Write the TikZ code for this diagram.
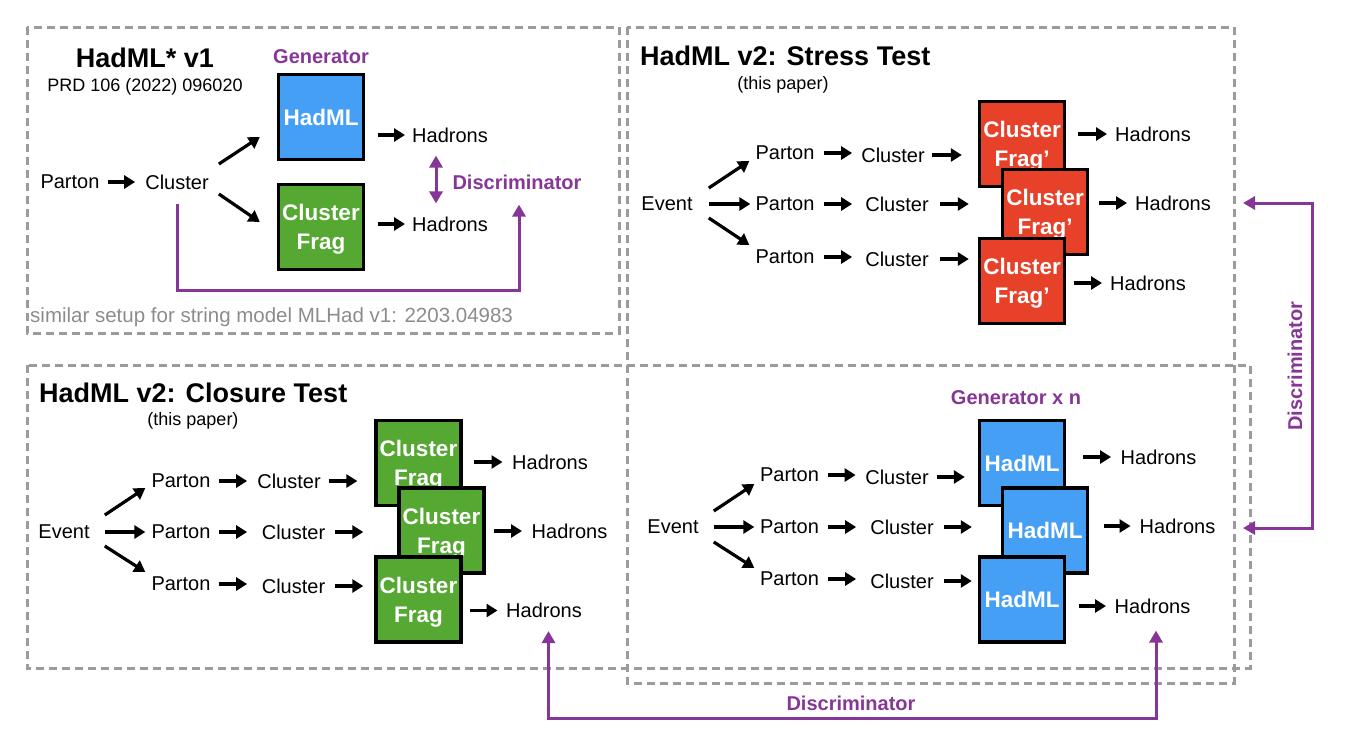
\documentclass[tikz,border=0pt]{standalone}
\usepackage{fontspec}
\setmainfont{Liberation Sans}
\usetikzlibrary{arrows.meta,calc}
\definecolor{purp}{RGB}{134,54,150}
\definecolor{hblue}{RGB}{69,160,245}
\definecolor{hgreen}{RGB}{85,168,49}
\definecolor{hred}{RGB}{232,65,42}
\definecolor{dgray}{RGB}{155,155,155}
\definecolor{sgray}{RGB}{140,140,140}
\begin{document}
\begin{tikzpicture}[x=1pt,y=-1pt,
  txt/.style={inner sep=0pt, font=\fontsize{20}{24}\selectfont},
  ttl/.style={inner sep=0pt, font=\fontsize{27}{32}\selectfont\bfseries},
  sub/.style={inner sep=0pt, font=\fontsize{18}{21}\selectfont},
  ptxt/.style={inner sep=0pt, font=\fontsize{20}{24}\selectfont\bfseries, text=purp},
  hbox/.style={draw=black, line width=3.4pt, minimum width=85pt, minimum height=85pt, inner sep=0pt, text=white, font=\fontsize{22.5}{29}\selectfont\bfseries, align=center, text depth=-6.5pt},
  panel/.style={draw=dgray, line width=3pt, dash pattern=on 8pt off 5pt},
  arr/.style={line width=3.2pt, -{Triangle[length=11pt,width=13pt]}},
  parr/.style={draw=purp, line width=3pt, -{Triangle[length=12pt,width=13pt]}},
  pdbl/.style={draw=purp, line width=3pt, {Triangle[length=12pt,width=13pt]}-{Triangle[length=12pt,width=13pt]}},
]
\useasboundingbox (0,0) rectangle (1356,748);

% panels
\draw[panel] (27,27) rectangle (619,333);
\draw[panel] (627,27) rectangle (1234,683);
\draw[panel] (27,365) rectangle (1250,668);

% ---------------- top-left: HadML* v1
\node[ttl] (t1) at (145,58) {HadML* v1};
\node[sub] (prd) at (145,87) {PRD 106 (2022) 096020};
\node[ptxt] (gen1) at (321,57) {Generator};
\node[hbox, fill=hblue] (hm1) at (321,117) {HadML};
\node[hbox, fill=hgreen] (cf1) at (321,227) {Cluster\\Frag};
\node[txt] (pa1) at (70,182) {Parton};
\node[txt] (cl1) at (177,182) {Cluster};
\node[txt] (ha1) at (450,135) {Hadrons};
\node[txt] (ha2) at (450,224) {Hadrons};
\node[ptxt] (dis1) at (517,182) {Discriminator};
\node[txt, text=sgray, anchor=west, font=\fontsize{20.5}{24}\selectfont] (sim) at (30,317) {similar setup for string model MLHad v1: 2203.04983};

\draw[arr, shorten <=8pt, shorten >=10pt] (pa1.east) -- (cl1.west |- pa1.east);
\draw[arr] ($(cl1.east)+(10,-18)$) -- ($(hm1.west)+(-17,20)$);
\draw[arr] ($(cl1.east)+(10,12)$) -- ($(cf1.west)+(-17,-5)$);
\draw[arr, shorten <=13pt, shorten >=7pt] (hm1.east |- ha1.west) -- (ha1.west);
\draw[arr, shorten <=13pt, shorten >=7pt] (cf1.east |- ha2.west) -- (ha2.west);
\coordinate (dx) at (436,0);
\draw[pdbl, shorten <=13pt, shorten >=13pt] (dx |- ha1.south) -- (dx |- ha2.north);
\coordinate (lp1) at (177,290);
\draw[parr, shorten <=14pt, shorten >=15pt] (cl1.south) -- (cl1.south |- lp1) -| ($(dis1.south)+(2,0)$);

% ---------------- top-right: Stress test
\node[ttl, anchor=west] (t2) at (640,56) {HadML v2: Stress Test};
\node[sub] (tp2) at (783,85) {(this paper)};
\node[txt] (ev2) at (667,204) {Event};
\node[txt] (p2a) at (785,153) {Parton};
\node[txt] (p2b) at (785,204) {Parton};
\node[txt] (p2c) at (785,257) {Parton};
\node[txt] (c2a) at (893,155) {Cluster};
\node[txt] (c2b) at (897,204) {Cluster};
\node[txt] (c2c) at (897,259) {Cluster};
\node[hbox, fill=hred] (rb1) at (1022,144) {Cluster\\Frag’};
\node[hbox, fill=hred] (rb2) at (1045,212) {Cluster\\Frag’};
\node[hbox, fill=hred] (rb3) at (1022,281) {Cluster\\Frag’};
\node[txt] (h2a) at (1153,134) {Hadrons};
\node[txt] (h2b) at (1173,203) {Hadrons};
\node[txt] (h2c) at (1148,283) {Hadrons};

\draw[arr] ($(ev2.east)+(16,-16)$) -- ($(p2a.west)+(-6,8)$);
\draw[arr, shorten <=16pt, shorten >=5pt] (ev2.east) -- (p2b.west |- ev2.east);
\draw[arr] ($(ev2.east)+(16,14)$) -- ($(p2c.west)+(-6,-12)$);
\foreach \p/\c/\s in {p2a/c2a/9, p2b/c2b/13, p2c/c2c/13}
  \draw[arr, shorten <=9pt, shorten >=\s pt] (\p.east) -- (\c.west |- \p.east);
\draw[arr, shorten <=7pt, shorten >=16pt] (c2a.east) -- (rb1.west |- c2a.east);
\draw[arr, shorten <=11pt, shorten >=32pt] (c2b.east) -- (rb2.west |- c2b.east);
\draw[arr, shorten <=11pt, shorten >=9pt] (c2c.east) -- (rb3.west |- c2c.east);
\draw[arr, shorten <=12pt, shorten >=8pt] (rb1.east |- h2a.west) -- (h2a.west);
\draw[arr, shorten <=10pt, shorten >=8pt] (rb2.east |- h2b.west) -- (h2b.west);
\draw[arr, shorten <=8pt, shorten >=8pt] (rb3.east |- h2c.west) -- (h2c.west);

% ---------------- bottom-left: Closure test
\node[ttl, anchor=west] (t3) at (39,393) {HadML v2: Closure Test};
\node[sub] (tp3) at (193,421) {(this paper)};
\node[txt] (ev3) at (64,532) {Event};
\node[txt] (p3a) at (181,481) {Parton};
\node[txt] (p3b) at (181,532) {Parton};
\node[txt] (p3c) at (181,584) {Parton};
\node[txt] (c3a) at (289,481) {Cluster};
\node[txt] (c3b) at (293.5,532) {Cluster};
\node[txt] (c3c) at (293.5,586) {Cluster};
\node[hbox, fill=hgreen] (gb1) at (418.5,463) {Cluster\\Frag};
\node[hbox, fill=hgreen] (gb2) at (441.5,530.5) {Cluster\\Frag};
\node[hbox, fill=hgreen] (gb3) at (418.5,599.5) {Cluster\\Frag};
\node[txt] (h3a) at (550,462) {Hadrons};
\node[txt] (h3b) at (569.5,531) {Hadrons};
\node[txt] (h3c) at (544,610.5) {Hadrons};

\draw[arr] ($(ev3.east)+(15,-17)$) -- ($(p3a.west)+(-6,7)$);
\draw[arr, shorten <=15pt, shorten >=6pt] (ev3.east) -- (p3b.west |- ev3.east);
\draw[arr] ($(ev3.east)+(15,14)$) -- ($(p3c.west)+(-6,-12)$);
\draw[arr, shorten <=8.5pt, shorten >=10pt] (p3a.east) -- (c3a.west |- p3a.east);
\draw[arr, shorten <=8.5pt, shorten >=14.5pt] (p3b.east) -- (c3b.west |- p3b.east);
\draw[arr, shorten <=8.5pt, shorten >=14.5pt] (p3c.east) -- (c3c.west |- p3c.east);
\draw[arr, shorten <=8pt, shorten >=17pt] (c3a.east) -- (gb1.west |- c3a.east);
\draw[arr, shorten <=10pt, shorten >=34pt] (c3b.east) -- (gb2.west |- c3b.east);
\draw[arr, shorten <=10pt, shorten >=11pt] (c3c.east) -- (gb3.west |- c3c.east);
\draw[arr, shorten <=11.5pt, shorten >=9.5pt] (gb1.east |- h3a.west) -- (h3a.west);
\draw[arr, shorten <=8pt, shorten >=9.5pt] (gb2.east |- h3b.west) -- (h3b.west);
\draw[arr, shorten <=7pt, shorten >=8.5pt] (gb3.east |- h3c.west) -- (h3c.west);

% ---------------- bottom-right: Stress test generators
\node[ptxt] (gen2) at (1016,398) {Generator x n};
\node[txt] (ev4) at (673,527) {Event};
\node[txt] (p4a) at (789.5,475) {Parton};
\node[txt] (p4b) at (789.5,527) {Parton};
\node[txt] (p4c) at (789.5,579) {Parton};
\node[txt] (c4a) at (897,477) {Cluster};
\node[txt] (c4b) at (902,527) {Cluster};
\node[txt] (c4c) at (902,581) {Cluster};
\node[hbox, fill=hblue] (bb1) at (1022,463) {HadML};
\node[hbox, fill=hblue] (bb2) at (1045,530.5) {HadML};
\node[hbox, fill=hblue] (bb3) at (1022,599.5) {HadML};
\node[txt] (h4a) at (1158.5,457) {Hadrons};
\node[txt] (h4b) at (1177.5,526) {Hadrons};
\node[txt] (h4c) at (1152.5,606) {Hadrons};

\draw[arr] ($(ev4.east)+(15,-16)$) -- ($(p4a.west)+(-5.5,9)$);
\draw[arr, shorten <=15pt, shorten >=5.5pt] (ev4.east) -- (p4b.west |- ev4.east);
\draw[arr] ($(ev4.east)+(15,15)$) -- ($(p4c.west)+(-5.5,-11)$);
\draw[arr, shorten <=9pt, shorten >=9.5pt] (p4a.east) -- (c4a.west |- p4a.east);
\draw[arr, shorten <=9pt, shorten >=14pt] (p4b.east) -- (c4b.west |- p4b.east);
\draw[arr, shorten <=9pt, shorten >=14pt] (p4c.east) -- (c4c.west |- p4c.east);
\draw[arr, shorten <=8pt, shorten >=13pt] (c4a.east) -- (bb1.west |- c4a.east);
\draw[arr, shorten <=10pt, shorten >=29pt] (c4b.east) -- (bb2.west |- c4b.east);
\draw[arr, shorten <=10pt, shorten >=6pt] (c4c.east) -- (bb3.west |- c4c.east);
\draw[arr, shorten <=17pt, shorten >=9.5pt] (bb1.east |- h4a.west) -- (h4a.west);
\draw[arr, shorten <=15pt, shorten >=9pt] (bb2.east |- h4b.west) -- (h4b.west);
\draw[arr, shorten <=12.5pt, shorten >=8.5pt] (bb3.east |- h4c.west) -- (h4c.west);

% ---------------- discriminators between panels
\coordinate (bd1) at (548.5,718);
\coordinate (bd2) at (1156,718);
\draw[pdbl, shorten <=13pt, shorten >=17pt] (bd1 |- h3c.south) -- (bd1) -- (bd2) -- (bd2 |- h4c.south);
\node[ptxt] (dis3) at (851,703) {Discriminator};

\coordinate (rt1) at (1243,203);
\coordinate (rt2) at (1243,528);
\coordinate (rx) at (1312,0);
\draw[pdbl] (rt1) -- (rt1 -| rx) -- (rt2 -| rx) -- (rt2);
\node[ptxt, rotate=90] (dis2) at (1295,366) {Discriminator};
\end{tikzpicture}
\end{document}
